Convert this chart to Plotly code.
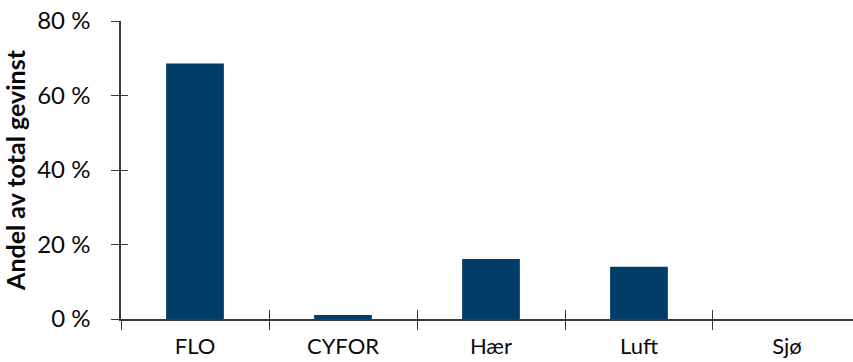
import plotly.graph_objects as go

# Share of total gain per branch (percent)
categories = ["FLO", "CYFOR", "Hær", "Luft", "Sjø"]
shares = [68.6, 1.1, 16.1, 14.0, 0.0]
y_ticks = [0, 20, 40, 60, 80]
y_tick_labels = ["0 %", "20 %", "40 %", "60 %", "80 %"]

bar_color = "#023C68"
axis_color = "#3a3a3a"
font_family = "Lato, 'Open Sans', sans-serif"

fig = go.Figure()

fig.add_trace(go.Bar(
    x=categories,
    y=shares,
    width=0.39,
    marker=dict(color=bar_color, line=dict(width=0)),
    hoverinfo="skip",
    showlegend=False,
))

# Invisible companion trace on an overlaid axis pair, used to draw
# inward tick marks so that ticks cross the axis lines.
fig.add_trace(go.Bar(
    x=categories,
    y=[None] * len(categories),
    xaxis="x2",
    yaxis="y2",
    hoverinfo="skip",
    showlegend=False,
))

x_range = [-0.5, 4.446]

fig.update_layout(
    width=853,
    height=362,
    margin=dict(l=121, r=0, t=21, b=43),
    paper_bgcolor="white",
    plot_bgcolor="white",
    font=dict(family=font_family, size=22, color="#0a0a0a"),
    xaxis=dict(
        type="category",
        categoryarray=categories,
        range=x_range,
        showline=True,
        linecolor=axis_color,
        linewidth=1.5,
        ticks="outside",
        tickson="boundaries",
        ticklen=9,
        tickwidth=1.2,
        tickcolor=axis_color,
        showgrid=False,
        zeroline=False,
        tickfont=dict(size=22),
        ticklabelstandoff=7,
    ),
    yaxis=dict(
        range=[0, 80],
        tickvals=y_ticks,
        ticktext=y_tick_labels,
        showline=True,
        linecolor=axis_color,
        linewidth=1.5,
        ticks="outside",
        ticklen=8,
        tickwidth=1.2,
        tickcolor=axis_color,
        showgrid=False,
        zeroline=False,
        tickfont=dict(size=24),
        ticklabelstandoff=16,
        title=dict(
            text="<b>Andel av total gevinst</b>",
            font=dict(size=25),
            standoff=8,
        ),
    ),
    xaxis2=dict(
        type="category",
        categoryarray=categories,
        range=x_range,
        overlaying="x",
        ticks="inside",
        tickson="boundaries",
        ticklen=9,
        tickwidth=1.2,
        tickcolor=axis_color,
        showticklabels=False,
        showgrid=False,
        zeroline=False,
        showline=False,
    ),
    yaxis2=dict(
        range=[0, 80],
        tickvals=y_ticks,
        overlaying="y",
        ticks="inside",
        ticklen=7,
        tickwidth=1.2,
        tickcolor=axis_color,
        showticklabels=False,
        showgrid=False,
        zeroline=False,
        showline=False,
    ),
)

fig.write_html("out.html")
